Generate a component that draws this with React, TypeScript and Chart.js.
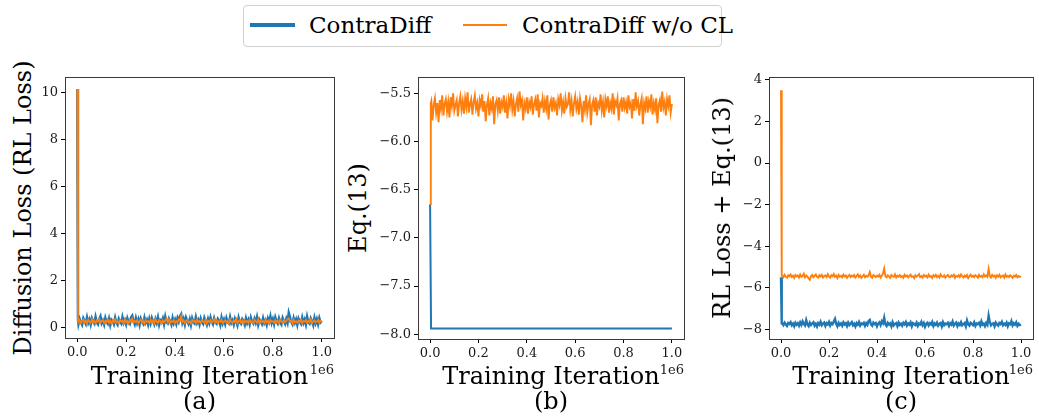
import React, { useEffect, useRef } from "react";
import { Chart, registerables } from "chart.js";

Chart.register(...registerables);

const BLUE = "#1f77b4";
const ORANGE = "#ff7f0e";
const SERIF = "'DejaVu Serif', serif";
Chart.defaults.font.family = SERIF;

const seriesNames = ["ContraDiff", "ContraDiff w/o CL"];
const xAxisLabel = "Training Iteration";
const xOffsetText = "1e6";
const panelCaptions = ["(a)", "(b)", "(c)"];
const yAxisLabels = ["Diffusion Loss (RL Loss)", "Eq.(13)", "RL Loss + Eq.(13)"];

const xTicks = [0, 0.2, 0.4, 0.6, 0.8, 1.0];
const xTickLabels = ["0.0", "0.2", "0.4", "0.6", "0.8", "1.0"];

const yTicksA = [0, 2, 4, 6, 8, 10];
const yTickLabelsA = ["0", "2", "4", "6", "8", "10"];
const yTicksB = [-8, -7.5, -7, -6.5, -6, -5.5];
const yTickLabelsB = ["\u22128.0", "\u22127.5", "\u22127.0", "\u22126.5", "\u22126.0", "\u22125.5"];
const yTicksC = [-8, -6, -4, -2, 0, 2, 4];
const yTickLabelsC = ["\u22128", "\u22126", "\u22124", "\u22122", "0", "2", "4"];

// training iterations (x 1e6)
const iterations = [
  0, 0.003,
  0.005, 0.01, 0.015, 0.02, 0.025, 0.03, 0.035, 0.04, 0.045, 0.05, 0.055, 0.06, 0.065, 0.07, 0.075, 0.08, 0.085, 0.09, 0.095, 0.1,
  0.105, 0.11, 0.115, 0.12, 0.125, 0.13, 0.135, 0.14, 0.145, 0.15, 0.155, 0.16, 0.165, 0.17, 0.175, 0.18, 0.185, 0.19, 0.195, 0.2,
  0.205, 0.21, 0.215, 0.22, 0.225, 0.23, 0.235, 0.24, 0.245, 0.25, 0.255, 0.26, 0.265, 0.27, 0.275, 0.28, 0.285, 0.29, 0.295, 0.3,
  0.305, 0.31, 0.315, 0.32, 0.325, 0.33, 0.335, 0.34, 0.345, 0.35, 0.355, 0.36, 0.365, 0.37, 0.375, 0.38, 0.385, 0.39, 0.395, 0.4,
  0.405, 0.41, 0.415, 0.42, 0.425, 0.43, 0.435, 0.44, 0.445, 0.45, 0.455, 0.46, 0.465, 0.47, 0.475, 0.48, 0.485, 0.49, 0.495, 0.5,
  0.505, 0.51, 0.515, 0.52, 0.525, 0.53, 0.535, 0.54, 0.545, 0.55, 0.555, 0.56, 0.565, 0.57, 0.575, 0.58, 0.585, 0.59, 0.595, 0.6,
  0.605, 0.61, 0.615, 0.62, 0.625, 0.63, 0.635, 0.64, 0.645, 0.65, 0.655, 0.66, 0.665, 0.67, 0.675, 0.68, 0.685, 0.69, 0.695, 0.7,
  0.705, 0.71, 0.715, 0.72, 0.725, 0.73, 0.735, 0.74, 0.745, 0.75, 0.755, 0.76, 0.765, 0.77, 0.775, 0.78, 0.785, 0.79, 0.795, 0.8,
  0.805, 0.81, 0.815, 0.82, 0.825, 0.83, 0.835, 0.84, 0.845, 0.85, 0.855, 0.86, 0.865, 0.87, 0.875, 0.88, 0.885, 0.89, 0.895, 0.9,
  0.905, 0.91, 0.915, 0.92, 0.925, 0.93, 0.935, 0.94, 0.945, 0.95, 0.955, 0.96, 0.965, 0.97, 0.975, 0.98, 0.985, 0.99, 0.995, 1.0,
];

// (a) Diffusion loss
const lossContraDiff = [
  10.15, 0.32,
  0.14, 0.36, 0.22, 0.11, 0.39, 0.28, 0.15, 0.42, 0.19, 0.33, 0.12, 0.38, 0.25, 0.16, 0.44, 0.21, 0.13, 0.35, 0.47, 0.18,
  0.29, 0.12, 0.40, 0.23, 0.15, 0.37, 0.10, 0.33, 0.27, 0.14, 0.41, 0.20, 0.11, 0.36, 0.24, 0.16, 0.43, 0.19, 0.31, 0.13,
  0.38, 0.22, 0.15, 0.42, 0.50, 0.26, 0.13, 0.39, 0.18, 0.34, 0.11, 0.37, 0.24, 0.15, 0.41, 0.20, 0.32, 0.12, 0.36, 0.17,
  0.40, 0.25, 0.13, 0.35, 0.19, 0.42, 0.11, 0.30, 0.23, 0.38, 0.14, 0.45, 0.21, 0.16, 0.37, 0.26, 0.12, 0.40, 0.18, 0.33,
  0.15, 0.39, 0.24, 0.47, 0.56, 0.20, 0.36, 0.13, 0.41, 0.27, 0.15, 0.34, 0.10, 0.38, 0.22, 0.16, 0.43, 0.19, 0.31, 0.12,
  0.37, 0.21, 0.14, 0.40, 0.26, 0.11, 0.35, 0.18, 0.42, 0.23, 0.13, 0.38, 0.20, 0.15, 0.36, 0.28, 0.10, 0.41, 0.17, 0.33,
  0.14, 0.39, 0.22, 0.16, 0.43, 0.19, 0.30, 0.12, 0.37, 0.25, 0.09, 0.40, 0.21, 0.15, 0.35, 0.27, 0.11, 0.38, 0.18, 0.32,
  0.13, 0.41, 0.24, 0.16, 0.36, 0.20, 0.43, 0.12, 0.34, 0.26, 0.15, 0.39, 0.18, 0.30, 0.11, 0.37, 0.23, 0.47, 0.19, 0.35,
  0.14, 0.42, 0.25, 0.16, 0.38, 0.21, 0.12, 0.40, 0.27, 0.15, 0.36, 0.19, 0.62, 0.44, 0.23, 0.13, 0.39, 0.20, 0.34, 0.11,
  0.37, 0.24, 0.15, 0.41, 0.19, 0.33, 0.12, 0.45, 0.22, 0.16, 0.38, 0.26, 0.10, 0.40, 0.18, 0.35, 0.14, 0.39, 0.21, 0.27,
];
const lossNoCL = [
  10.15, 0.30,
  0.22, 0.31, 0.18, 0.27, 0.33, 0.20, 0.29, 0.16, 0.32, 0.24, 0.19, 0.34, 0.21, 0.28, 0.17, 0.30, 0.25, 0.35, 0.20, 0.26,
  0.31, 0.18, 0.28, 0.23, 0.33, 0.19, 0.27, 0.15, 0.30, 0.22, 0.34, 0.20, 0.26, 0.17, 0.31, 0.24, 0.29, 0.18, 0.33, 0.21,
  0.27, 0.16, 0.32, 0.24, 0.36, 0.19, 0.28, 0.22, 0.31, 0.17, 0.26, 0.33, 0.20, 0.29, 0.15, 0.30, 0.23, 0.27, 0.18, 0.32,
  0.21, 0.29, 0.17, 0.34, 0.24, 0.19, 0.31, 0.26, 0.16, 0.30, 0.22, 0.28, 0.37, 0.20, 0.33, 0.18, 0.27, 0.23, 0.31, 0.19,
  0.26, 0.21, 0.34, 0.29, 0.47, 0.23, 0.30, 0.18, 0.27, 0.32, 0.20, 0.25, 0.16, 0.31, 0.24, 0.28, 0.19, 0.33, 0.22, 0.27,
  0.18, 0.30, 0.25, 0.21, 0.33, 0.17, 0.28, 0.23, 0.31, 0.19, 0.26, 0.34, 0.20, 0.29, 0.16, 0.27, 0.24, 0.32, 0.18, 0.25,
  0.30, 0.21, 0.27, 0.17, 0.33, 0.24, 0.19, 0.29, 0.22, 0.35, 0.18, 0.26, 0.31, 0.20, 0.28, 0.15, 0.30, 0.23, 0.27, 0.19,
  0.32, 0.22, 0.26, 0.18, 0.31, 0.25, 0.20, 0.34, 0.17, 0.29, 0.23, 0.27, 0.19, 0.33, 0.21, 0.28, 0.16, 0.30, 0.24, 0.26,
  0.20, 0.31, 0.23, 0.28, 0.17, 0.33, 0.25, 0.19, 0.30, 0.22, 0.27, 0.35, 0.38, 0.24, 0.29, 0.18, 0.32, 0.21, 0.26, 0.20,
  0.29, 0.23, 0.33, 0.18, 0.27, 0.24, 0.31, 0.19, 0.28, 0.22, 0.34, 0.17, 0.26, 0.30, 0.21, 0.25, 0.32, 0.19, 0.28, 0.24,
];

// (b) Eq.(13)
const eqIterationsContraDiff = [0, 0.004, 1.0];
const eqContraDiff = [-6.65, -7.94, -7.94];
const eqNoCL = [
  -6.65, -5.60,
  -5.58, -5.78, -5.62, -5.55, -5.70, -5.60, -5.80, -5.57, -5.66, -5.52, -5.73, -5.61, -5.56, -5.69, -5.59, -5.75, -5.54, -5.63, -5.50, -5.68,
  -5.62, -5.57, -5.74, -5.60, -5.53, -5.67, -5.58, -5.71, -5.55, -5.64, -5.49, -5.70, -5.61, -5.56, -5.72, -5.59, -5.52, -5.66, -5.60, -5.74,
  -5.57, -5.63, -5.51, -5.69, -5.58, -5.79, -5.62, -5.55, -5.73, -5.60, -5.66, -5.53, -5.82, -5.61, -5.57, -5.68, -5.54, -5.71, -5.59, -5.64,
  -5.52, -5.70, -5.60, -5.76, -5.56, -5.63, -5.50, -5.67, -5.58, -5.74, -5.61, -5.55, -5.69, -5.48, -5.62, -5.57, -5.78, -5.60, -5.66, -5.54,
  -5.71, -5.59, -5.64, -5.53, -5.72, -5.61, -5.56, -5.68, -5.51, -5.75, -5.60, -5.63, -5.55, -5.70, -5.58, -5.66, -5.52, -5.77, -5.62, -5.57,
  -5.69, -5.54, -5.65, -5.60, -5.73, -5.56, -5.62, -5.50, -5.68, -5.59, -5.71, -5.55, -5.64, -5.61, -5.49, -5.67, -5.58, -5.74, -5.60, -5.53,
  -5.66, -5.59, -5.72, -5.55, -5.63, -5.80, -5.58, -5.67, -5.52, -5.70, -5.61, -5.56, -5.83, -5.62, -5.57, -5.69, -5.54, -5.73, -5.60, -5.64,
  -5.51, -5.68, -5.59, -5.75, -5.56, -5.63, -5.53, -5.70, -5.60, -5.66, -5.50, -5.72, -5.58, -5.62, -5.55, -5.78, -5.61, -5.57, -5.69, -5.54,
  -5.65, -5.59, -5.71, -5.52, -5.64, -5.60, -5.76, -5.56, -5.68, -5.49, -5.63, -5.58, -5.73, -5.61, -5.55, -5.82, -5.60, -5.66, -5.53, -5.70,
  -5.58, -5.64, -5.51, -5.72, -5.60, -5.67, -5.55, -5.81, -5.62, -5.57, -5.69, -5.48, -5.65, -5.59, -5.73, -5.56, -5.63, -5.52, -5.70, -5.61,
];

// (c) RL Loss + Eq.(13)
const totalContraDiff = [
  -5.5, -7.72,
  -7.72, -7.80, -7.68, -7.77, -7.84, -7.70, -7.75, -7.66, -7.81, -7.73, -7.86, -7.69, -7.78, -7.71, -7.83, -7.67, -7.79, -7.62, -7.74, -7.82,
  -7.56, -7.76, -7.85, -7.69, -7.80, -7.72, -7.66, -7.83, -7.74, -7.87, -7.70, -7.78, -7.64, -7.81, -7.73, -7.68, -7.84, -7.71, -7.77, -7.65,
  -7.82, -7.70, -7.76, -7.63, -7.50, -7.74, -7.86, -7.69, -7.79, -7.72, -7.83, -7.67, -7.77, -7.71, -7.85, -7.68, -7.80, -7.73, -7.66, -7.81,
  -7.74, -7.87, -7.70, -7.78, -7.65, -7.82, -7.72, -7.76, -7.69, -7.84, -7.71, -7.79, -7.60, -7.55, -7.77, -7.83, -7.68, -7.75, -7.70, -7.86,
  -7.73, -7.67, -7.80, -7.62, -7.71, -7.45, -7.76, -7.84, -7.69, -7.78, -7.72, -7.87, -7.66, -7.81, -7.74, -7.70, -7.85, -7.68, -7.79, -7.73,
  -7.83, -7.69, -7.76, -7.65, -7.82, -7.72, -7.78, -7.67, -7.86, -7.71, -7.75, -7.80, -7.68, -7.84, -7.73, -7.77, -7.64, -7.81, -7.70, -7.88,
  -7.74, -7.69, -7.82, -7.71, -7.77, -7.65, -7.85, -7.72, -7.79, -7.68, -7.83, -7.74, -7.70, -7.87, -7.66, -7.80, -7.73, -7.76, -7.69, -7.84,
  -7.71, -7.78, -7.63, -7.82, -7.74, -7.68, -7.85, -7.72, -7.79, -7.66, -7.81, -7.75, -7.70, -7.86, -7.58, -7.77, -7.83, -7.69, -7.74, -7.80,
  -7.67, -7.84, -7.72, -7.76, -7.69, -7.82, -7.62, -7.78, -7.73, -7.85, -7.70, -7.79, -7.35, -7.66, -7.81, -7.74, -7.71, -7.86, -7.68, -7.77,
  -7.83, -7.70, -7.75, -7.64, -7.81, -7.73, -7.79, -7.68, -7.86, -7.72, -7.76, -7.61, -7.82, -7.71, -7.78, -7.67, -7.84, -7.74, -7.80, -7.77,
];
const totalNoCL = [
  3.5, -5.42,
  -5.43, -5.50, -5.38, -5.47, -5.52, -5.40, -5.45, -5.36, -5.49, -5.42, -5.53, -5.39, -5.46, -5.41, -5.51, -5.37, -5.48, -5.44, -5.33, -5.50,
  -5.41, -5.47, -5.55, -5.62, -5.44, -5.39, -5.50, -5.43, -5.36, -5.48, -5.52, -5.40, -5.46, -5.38, -5.51, -5.44, -5.41, -5.49, -5.35, -5.46,
  -5.52, -5.40, -5.45, -5.34, -5.48, -5.42, -5.54, -5.39, -5.47, -5.43, -5.50, -5.37, -5.46, -5.41, -5.53, -5.44, -5.38, -5.49, -5.42, -5.47,
  -5.39, -5.51, -5.44, -5.36, -5.48, -5.41, -5.53, -5.45, -5.38, -5.50, -5.43, -5.47, -5.40, -5.25, -5.46, -5.52, -5.39, -5.44, -5.49, -5.42,
  -5.47, -5.38, -5.51, -5.43, -5.32, -5.08, -5.45, -5.50, -5.40, -5.46, -5.53, -5.39, -5.44, -5.48, -5.36, -5.51, -5.42, -5.47, -5.40, -5.49,
  -5.44, -5.52, -5.38, -5.46, -5.41, -5.50, -5.43, -5.37, -5.48, -5.45, -5.54, -5.40, -5.47, -5.42, -5.35, -5.49, -5.44, -5.51, -5.39, -5.46,
  -5.42, -5.50, -5.37, -5.47, -5.44, -5.53, -5.40, -5.46, -5.38, -5.49, -5.43, -5.51, -5.36, -5.45, -5.48, -5.41, -5.52, -5.44, -5.39, -5.47,
  -5.50, -5.41, -5.46, -5.38, -5.53, -5.43, -5.47, -5.40, -5.49, -5.36, -5.45, -5.51, -5.42, -5.48, -5.39, -5.54, -5.44, -5.37, -5.47, -5.42,
  -5.49, -5.40, -5.45, -5.52, -5.38, -5.47, -5.43, -5.50, -5.36, -5.46, -5.41, -5.48, -5.10, -5.44, -5.51, -5.39, -5.46, -5.42, -5.53, -5.40,
  -5.47, -5.38, -5.50, -5.44, -5.41, -5.52, -5.36, -5.48, -5.43, -5.49, -5.40, -5.46, -5.53, -5.42, -5.47, -5.39, -5.50, -5.44, -5.48, -5.45,
];

const H = 419;

function toPoints(xs: number[], ys: number[]) {
  return xs.map((x, i) => ({ x, y: ys[i] }));
}

const framePlugin = {
  id: "frame",
  afterDatasetsDraw(chart: any) {
    const { ctx, chartArea } = chart;
    ctx.save();
    ctx.strokeStyle = "#3a3a3a";
    ctx.lineWidth = 1;
    ctx.strokeRect(
      Math.round(chartArea.left) + 0.5,
      Math.round(chartArea.top) + 0.5,
      Math.round(chartArea.right - chartArea.left),
      Math.round(chartArea.bottom - chartArea.top)
    );
    ctx.restore();
  },
};

type PanelProps = {
  canvasLeft: number;
  canvasWidth: number;
  plotLeft: number;
  plotRight: number;
  plotTop: number;
  plotBottom: number;
  yMin: number;
  yMax: number;
  yTicks: number[];
  yTickLabels: string[];
  blue: { x: number; y: number }[];
  orange: { x: number; y: number }[];
  blueWidth: number;
  orangeWidth: number;
  yLabel: string;
  yLabelX: number;
  caption: string;
};

function Panel(p: PanelProps) {
  const ref = useRef<HTMLCanvasElement>(null);
  useEffect(() => {
    if (!ref.current) return;
    const tickFont = { family: SERIF, size: 13 };
    const xAxisH = 40;
    let alive = true;
    const chart = new Chart(ref.current, {
      type: "line",
      data: {
        datasets: [
          {
            label: seriesNames[0],
            data: p.blue,
            borderColor: BLUE,
            backgroundColor: BLUE,
            borderWidth: p.blueWidth,
            pointRadius: 0,
            tension: 0,
            order: 2,
          },
          {
            label: seriesNames[1],
            data: p.orange,
            borderColor: ORANGE,
            backgroundColor: ORANGE,
            borderWidth: p.orangeWidth,
            pointRadius: 0,
            tension: 0,
            order: 1,
          },
        ],
      },
      options: {
        animation: false,
        responsive: false,
        maintainAspectRatio: false,
        devicePixelRatio: 1,
        layout: {
          padding: {
            left: 0,
            top: p.plotTop,
            right: p.canvasLeft + p.canvasWidth - p.plotRight,
            bottom: H - p.plotBottom - xAxisH,
          },
        },
        plugins: { legend: { display: false }, tooltip: { enabled: false } },
        scales: {
          x: {
            type: "linear",
            min: -0.05,
            max: 1.05,
            afterFit: (s: any) => {
              s.height = xAxisH;
            },
            afterBuildTicks: (s: any) => {
              s.ticks = xTicks.map((v) => ({ value: v }));
            },
            ticks: {
              callback: (_v: any, i: number) => xTickLabels[i],
              font: tickFont,
              color: "#1a1a1a",
              padding: 3,
              maxRotation: 0,
              autoSkip: false,
            },
            grid: { drawOnChartArea: false, drawTicks: true, tickLength: 4, color: "#000" },
            border: { display: true, color: "#3a3a3a" },
          },
          y: {
            type: "linear",
            min: p.yMin,
            max: p.yMax,
            afterFit: (s: any) => {
              s.width = p.plotLeft - p.canvasLeft;
            },
            afterBuildTicks: (s: any) => {
              s.ticks = p.yTicks.map((v) => ({ value: v }));
            },
            ticks: {
              callback: (_v: any, i: number) => p.yTickLabels[i],
              font: tickFont,
              color: "#1a1a1a",
              padding: 3,
              autoSkip: false,
            },
            grid: { drawOnChartArea: false, drawTicks: true, tickLength: 4, color: "#000" },
            border: { display: true, color: "#3a3a3a" },
          },
        },
      } as any,
      plugins: [framePlugin],
    });
    if (document.fonts && document.fonts.load) {
      document.fonts
        .load("13px 'DejaVu Serif'")
        .then(() => {
          if (alive) chart.update();
        })
        .catch(() => {});
    }
    return () => {
      alive = false;
      chart.destroy();
    };
  }, []);

  const cx = (p.plotLeft + p.plotRight) / 2;
  const cy = (p.plotTop + p.plotBottom) / 2;
  return (
    <>
      <canvas
        ref={ref}
        width={p.canvasWidth}
        height={H}
        style={{ position: "absolute", left: p.canvasLeft, top: 0, width: p.canvasWidth, height: H }}
      />
      <div
        style={{
          position: "absolute",
          left: p.yLabelX,
          top: cy,
          transform: "translate(-50%, -50%) rotate(-90deg)",
          fontFamily: SERIF,
          fontSize: 24,
          lineHeight: "26px",
          whiteSpace: "nowrap",
          color: "#000",
        }}
      >
        {p.yLabel}
      </div>
      <div
        style={{
          position: "absolute",
          left: cx - 150,
          width: 300,
          top: 364,
          textAlign: "center",
          fontFamily: SERIF,
          fontSize: 24,
          lineHeight: "25px",
          whiteSpace: "pre",
          color: "#000",
        }}
      >
        {xAxisLabel + "\n" + p.caption}
      </div>
      <div
        style={{
          position: "absolute",
          left: p.plotRight - 60,
          width: 60,
          top: 362,
          textAlign: "right",
          fontFamily: SERIF,
          fontSize: 13,
          lineHeight: "16px",
          color: "#1a1a1a",
        }}
      >
        {xOffsetText}
      </div>
    </>
  );
}

export default function App() {
  return (
    <div
      style={{
        position: "fixed",
        left: 0,
        top: 0,
        width: 1039,
        height: H,
        background: "#fff",
        overflow: "hidden",
      }}
    >
      {/* legend */}
      <div
        style={{
          position: "absolute",
          left: 243,
          top: 5,
          width: 477,
          height: 40,
          border: "1px solid #d0d0d0",
          borderRadius: 4,
          boxSizing: "content-box",
        }}
      >
        <div style={{ position: "absolute", left: 6, top: 17, width: 45, height: 4, background: BLUE }} />
        <div
          style={{
            position: "absolute",
            left: 65,
            top: 5,
            fontFamily: SERIF,
            fontSize: 23,
            lineHeight: "28px",
            whiteSpace: "nowrap",
          }}
        >
          {seriesNames[0]}
        </div>
        <div style={{ position: "absolute", left: 219, top: 18, width: 44, height: 2, background: ORANGE }} />
        <div
          style={{
            position: "absolute",
            left: 278,
            top: 5,
            fontFamily: SERIF,
            fontSize: 23,
            lineHeight: "28px",
            whiteSpace: "nowrap",
          }}
        >
          {seriesNames[1]}
        </div>
      </div>

      <Panel
        canvasLeft={40}
        canvasWidth={300}
        plotLeft={65}
        plotRight={334}
        plotTop={77}
        plotBottom={338}
        yMin={-0.455}
        yMax={10.66}
        yTicks={yTicksA}
        yTickLabels={yTickLabelsA}
        blue={toPoints(iterations, lossContraDiff)}
        orange={toPoints(iterations, lossNoCL)}
        blueWidth={2.5}
        orangeWidth={1.8}
        yLabel={yAxisLabels[0]}
        yLabelX={23}
        caption={panelCaptions[0]}
      />
      <Panel
        canvasLeft={375}
        canvasWidth={315}
        plotLeft={418}
        plotRight={684}
        plotTop={77}
        plotBottom={339}
        yMin={-8.05}
        yMax={-5.33}
        yTicks={yTicksB}
        yTickLabels={yTickLabelsB}
        blue={toPoints(eqIterationsContraDiff, eqContraDiff)}
        orange={toPoints(iterations, eqNoCL)}
        blueWidth={2}
        orangeWidth={1.9}
        yLabel={yAxisLabels[1]}
        yLabelX={358}
        caption={panelCaptions[1]}
      />
      <Panel
        canvasLeft={735}
        canvasWidth={304}
        plotLeft={769}
        plotRight={1033}
        plotTop={77}
        plotBottom={339}
        yMin={-8.47}
        yMax={4.14}
        yTicks={yTicksC}
        yTickLabels={yTickLabelsC}
        blue={toPoints(iterations, totalContraDiff)}
        orange={toPoints(iterations, totalNoCL)}
        blueWidth={2.4}
        orangeWidth={1.9}
        yLabel={yAxisLabels[2]}
        yLabelX={722}
        caption={panelCaptions[2]}
      />
    </div>
  );
}
